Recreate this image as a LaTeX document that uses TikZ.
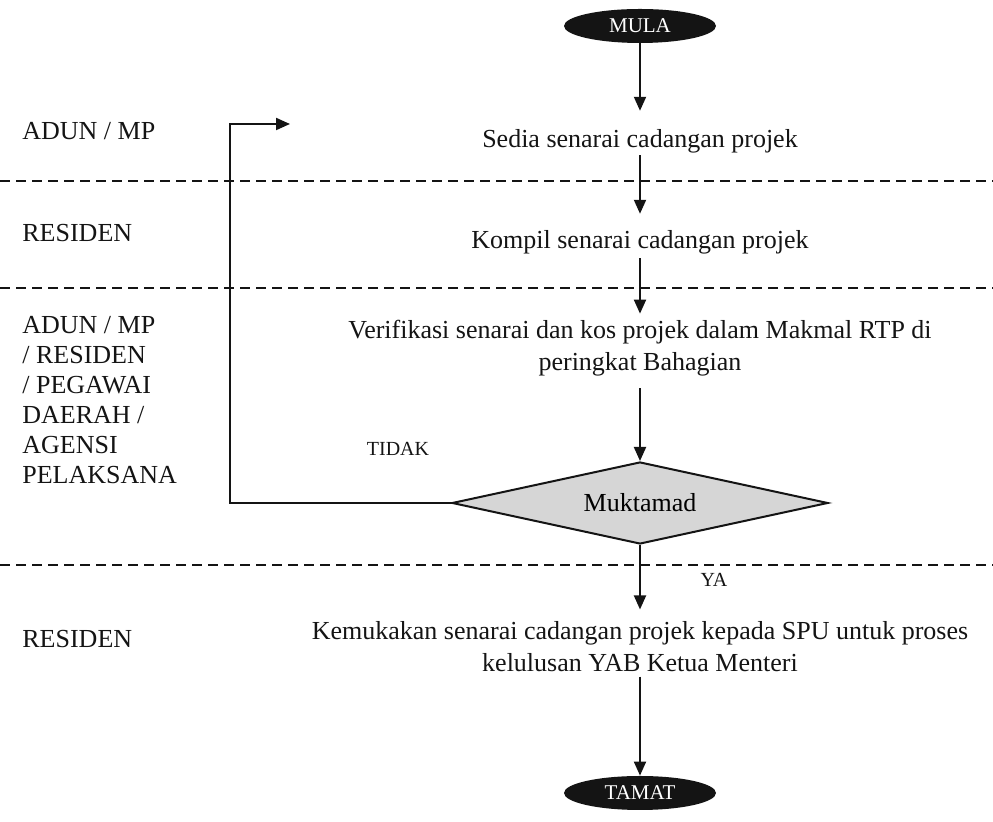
\documentclass[tikz,border=0pt]{standalone}
\usepackage{fontspec}
\setmainfont{Liberation Serif}
\usetikzlibrary{arrows.meta,shapes.geometric}
\definecolor{ink}{RGB}{20,20,20}
\definecolor{stipple}{RGB}{214,214,214}
\tikzset{
  stepbox/.style={font=\fontsize{13}{16}\selectfont, align=center, inner sep=0pt, text=ink},
  lane/.style={font=\fontsize{13}{15}\selectfont, align=left, anchor=west, inner sep=0pt, text=ink},
  term/.style={ellipse, fill=ink, text=white, font=\fontsize{10.5}{12}\selectfont,
              minimum width=76pt, minimum height=17pt, inner sep=0pt},
  decide/.style={diamond, aspect=4.6, draw=ink, line width=1pt, fill=stipple,
              font=\fontsize{13}{16}\selectfont, minimum width=188pt, minimum height=41pt, inner sep=0pt},
  tag/.style={font=\fontsize{10}{12}\selectfont, inner sep=0pt, text=ink},
  flow/.style={-{Triangle[length=7pt,width=6pt]}, ink, line width=1pt},
  swim/.style={ink, line width=0.8pt, dash pattern=on 5pt off 3pt},
}

\begin{document}
\begin{tikzpicture}[x=0.5pt,y=-0.5pt]
    \useasboundingbox (0,0) rectangle (993,822);
    % --- lanes ---
    \draw[swim] (0,181) -- (993,181);
    \draw[swim] (0,288) -- (993,288);
    \draw[swim] (0,565) -- (993,565);
    \node[lane] (adun) at (22,131) {ADUN / MP};
    \node[lane] (residen) at (22,233) {RESIDEN};
    \node[lane] (bersama) at (22,400) {ADUN / MP\\/ RESIDEN\\/ PEGAWAI\\DAERAH /\\AGENSI\\PELAKSANA};
    \node[lane] (residenb) at (22,639) {RESIDEN};
    % --- the steps ---
    \node[term] (mula) at (640,26) {MULA};
    \node[stepbox] (sedia) at (640,141) {Sedia senarai cadangan projek};
    \node[stepbox] (kompil) at (640,242) {Kompil senarai cadangan projek};
    \node[stepbox] (verif) at (640,348)
      {Verifikasi senarai dan kos projek dalam Makmal RTP di\\peringkat Bahagian};
    \node[decide] (muktamad) at (640,503) {Muktamad};
    \node[stepbox] (kemuka) at (640,647)
      {Kemukakan senarai cadangan projek kepada SPU untuk proses\\kelulusan YAB Ketua Menteri};
    \node[term] (tamat) at (640,793) {TAMAT};
    \node[tag] (tidak) at (398,449) {TIDAK};
    \node[tag] (ya) at (714,580) {YA};
    % --- flow ---
    \draw[flow,shorten >=9pt] (mula) -- (sedia);
    \draw[flow,shorten <=1pt,shorten >=8pt] (sedia) -- (kompil);
    \draw[flow,shorten <=2pt,shorten >=3pt] (kompil) -- (verif);
    \draw[flow,shorten <=6pt] (verif) -- (muktamad);
    \draw[flow,shorten >=6pt] (muktamad) -- (kemuka);
    \draw[flow,shorten <=2pt] (kemuka) -- (tamat);
    % --- back to the start ---
    \coordinate (turn) at (230,124);
    \coordinate (loopin) at (290,124);
    \draw[flow] (muktamad.west) -| (turn) -- (loopin);
\end{tikzpicture}
\end{document}
